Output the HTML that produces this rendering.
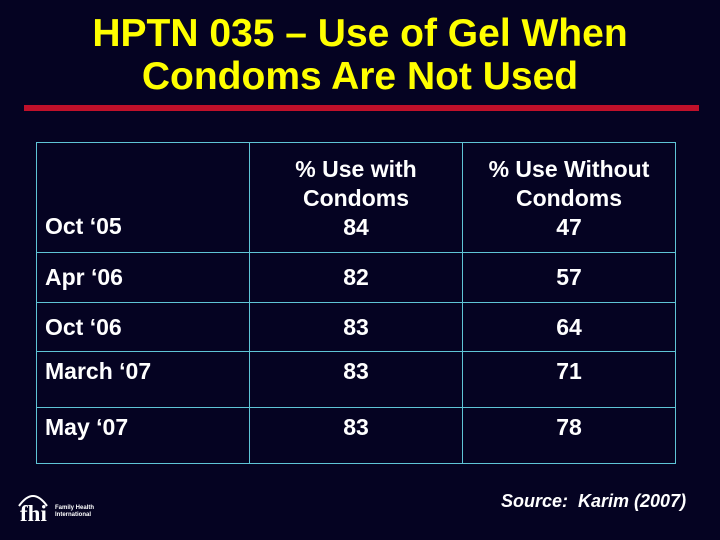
<!DOCTYPE html>
<html><head><meta charset="utf-8"><style>
body{margin:0;width:720px;height:540px;background:#050322;overflow:hidden;position:relative;font-family:"Liberation Sans",Arial,sans-serif}
.t{position:absolute;left:0;width:720px;text-align:center;color:#ffff00;font-weight:bold;font-size:39px;line-height:43px;top:12px}
.red{position:absolute;left:24px;width:675px;top:105px;height:6px;background:#c0102a}
table{position:absolute;left:36px;top:142px;border-collapse:collapse;color:#fff;font-size:23px;font-weight:bold;table-layout:fixed}
td{border:1px solid #5fc4d6;padding:0;vertical-align:bottom}
td.l{padding-left:8px;vertical-align:middle}
td.c{text-align:center;vertical-align:middle}
.src{position:absolute;left:501px;top:491px;color:#fff;font-style:italic;font-weight:bold;font-size:18px}
</style></head><body>
<div class="t">HPTN 035 – Use of Gel When<br>Condoms Are Not Used</div>
<div class="red"></div>
<table>
<tr style="height:110px">
<td class="l" style="width:204px;vertical-align:bottom;padding-bottom:12px">Oct ‘05</td>
<td style="width:212px;text-align:center;line-height:29px;padding-bottom:10px">% Use with<br>Condoms<br>84</td>
<td style="width:212px;text-align:center;line-height:29px;padding-bottom:10px">% Use Without<br>Condoms<br>47</td></tr>
<tr style="height:50px"><td class="l">Apr ‘06</td><td class="c">82</td><td class="c">57</td></tr>
<tr style="height:49px"><td class="l">Oct ‘06</td><td class="c">83</td><td class="c">64</td></tr>
<tr style="height:56px"><td class="l" style="vertical-align:top;padding-top:6px">March ‘07</td><td class="c" style="vertical-align:top;padding-top:6px">83</td><td class="c" style="vertical-align:top;padding-top:6px">71</td></tr>
<tr style="height:56px"><td class="l" style="vertical-align:top;padding-top:6px">May ‘07</td><td class="c" style="vertical-align:top;padding-top:6px">83</td><td class="c" style="vertical-align:top;padding-top:6px">78</td></tr>
</table>
<svg style="position:absolute;left:15px;top:490px" width="110" height="35">
<path d="M4 16 Q18 -4 32 16" stroke="#fff" stroke-width="2" fill="none"/>
<text x="5" y="31" fill="#fff" font-family="Liberation Serif" font-weight="bold" font-size="23">fhi</text>
<text x="40" y="19" fill="#fff" font-size="6" font-weight="bold">Family Health</text>
<text x="40" y="26" fill="#fff" font-size="6" font-weight="bold">International</text>
</svg>
<div class="src">Source:&nbsp; Karim (2007)</div>
</body></html>
